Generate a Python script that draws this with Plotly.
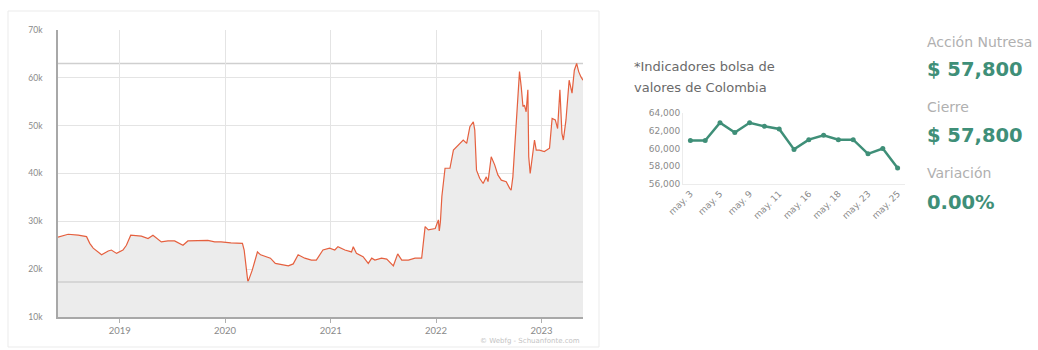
import plotly.graph_objects as go

# ---------------- data ----------------
dates = [
    "2018-06-01", "2018-07-06", "2018-08-10", "2018-09-08", "2018-09-19", "2018-10-01",
    "2018-10-30", "2018-11-22", "2018-12-03", "2018-12-21", "2019-01-12", "2019-01-24",
    "2019-02-08", "2019-03-17", "2019-04-09", "2019-04-26", "2019-05-25", "2019-06-17",
    "2019-07-10", "2019-08-08", "2019-08-25", "2019-09-29", "2019-11-02", "2019-11-26",
    "2019-12-18", "2020-01-21", "2020-03-01", "2020-03-07", "2020-03-20", "2020-04-04",
    "2020-04-22", "2020-05-03", "2020-05-20", "2020-06-06", "2020-06-23", "2020-07-16",
    "2020-08-07", "2020-08-24", "2020-09-10", "2020-10-03", "2020-10-26", "2020-11-12",
    "2020-12-05", "2020-12-28", "2021-01-15", "2021-01-26", "2021-02-19", "2021-03-14",
    "2021-03-20", "2021-03-31", "2021-04-23", "2021-05-11", "2021-05-23", "2021-06-03",
    "2021-06-26", "2021-07-14", "2021-08-06", "2021-08-21", "2021-09-04", "2021-09-27",
    "2021-10-20", "2021-11-12", "2021-11-24", "2021-12-05", "2021-12-29", "2022-01-09",
    "2022-01-12", "2022-01-16", "2022-01-21", "2022-02-01", "2022-02-18", "2022-03-02",
    "2022-03-19", "2022-04-05", "2022-04-17", "2022-04-28", "2022-05-10", "2022-05-15",
    "2022-05-21", "2022-06-01", "2022-06-13", "2022-06-24", "2022-06-30", "2022-07-11",
    "2022-07-23", "2022-08-03", "2022-08-15", "2022-09-01", "2022-09-13", "2022-09-18",
    "2022-09-24", "2022-09-30", "2022-10-11", "2022-10-17", "2022-10-23", "2022-10-29",
    "2022-11-03", "2022-11-09", "2022-11-15", "2022-11-18", "2022-11-23", "2022-12-02",
    "2022-12-08", "2022-12-14", "2022-12-25", "2023-01-11", "2023-01-29", "2023-02-07",
    "2023-02-18", "2023-02-26", "2023-03-06", "2023-03-13", "2023-03-18", "2023-03-27",
    "2023-04-07", "2023-04-17", "2023-04-25", "2023-05-03", "2023-05-10", "2023-05-18",
    "2023-05-25",
]
prices = [
    26700, 27300, 27100, 26800, 25400, 24400,
    23000, 23800, 24000, 23300, 24000, 25000,
    27100, 26900, 26400, 27100, 25700, 25900,
    25900, 25000, 25900, 25900, 26000, 25700,
    25700, 25500, 25400, 24000, 17300, 19800,
    23600, 23000, 22600, 22300, 21200, 20900,
    20700, 21100, 23000, 22300, 21900, 21900,
    24000, 24400, 24000, 24700, 24000, 23600,
    24700, 23300, 22600, 21200, 22300, 21900,
    22300, 22100, 20700, 23200, 21900, 21900,
    22300, 22300, 28900, 28200, 28500, 30300,
    28000, 29900, 35200, 41100, 41100, 44900,
    46000, 47000, 46300, 49800, 50800, 49100,
    40700, 39000, 37900, 39300, 38300, 43500,
    41800, 39700, 38600, 38300, 36900, 36500,
    39300, 45600, 56800, 61300, 58100, 54000,
    54300, 52900, 57500, 43500, 40000, 44200,
    47000, 44900, 44900, 44600, 45300, 51500,
    51200, 49400, 57500, 48400, 47000, 51200,
    59500, 56800, 61600, 63000, 61300, 60200,
    59500,
]
y_tick_values = [10000, 20000, 30000, 40000, 50000, 60000, 70000]
y_tick_labels = ["10k", "20k", "30k", "40k", "50k", "60k", "70k"]

small_days = ["may. 3", "may. 4", "may. 5", "may. 8", "may. 9", "may. 10", "may. 11", "may. 12",
              "may. 16", "may. 17", "may. 18", "may. 19", "may. 23", "may. 24", "may. 25"]
small_values = [60900, 60900, 62900, 61800, 62900, 62500, 62200, 59900,
                61000, 61500, 61000, 61000, 59400, 60000, 57800]
small_tick_labels = ["may. 3", "may. 5", "may. 9", "may. 11", "may. 16", "may. 18", "may. 23", "may. 25"]
small_y_ticks = [56000, 58000, 60000, 62000, 64000]

title_lines = ["*Indicadores bolsa de", "valores de Colombia"]
info_labels = ["Acción Nutresa", "Cierre", "Variación"]
info_values = ["$ 57,800", "$ 57,800", "0.00%"]

# ---------------- figure ----------------
W, H = 1038, 350
def px(x):
    return x / W
def py(y):
    return (H - y) / H

GREEN = "#3f8f78"
RED = "#e5603f"
GRID = "#e4e4e4"
WIDE = "DejaVu Sans, Verdana, sans-serif"

fig = go.Figure()

fig.add_trace(go.Scatter(
    x=dates, y=prices, mode="lines",
    line=dict(color=RED, width=1.2),
    fill="tozeroy", fillcolor="#ececec",
    xaxis="x", yaxis="y", hoverinfo="skip", showlegend=False,
))

fig.add_trace(go.Scatter(
    x=small_days, y=small_values, mode="lines+markers",
    line=dict(color=GREEN, width=2.5),
    marker=dict(color=GREEN, size=5),
    xaxis="x2", yaxis="y2", hoverinfo="skip", showlegend=False,
))

# max / min reference lines of the main series
hi, lo = max(prices), min(prices)
shapes = [
    dict(type="line", xref="x domain", yref="y", x0=0, x1=1, y0=hi, y1=hi,
         line=dict(color="#cfcfcf", width=1.5), layer="below"),
    dict(type="line", xref="x domain", yref="y", x0=0, x1=1, y0=lo, y1=lo,
         line=dict(color="#cfcfcf", width=1.5), layer="above"),
    dict(type="rect", xref="paper", yref="paper", x0=px(8), x1=px(599), y0=py(347), y1=py(11),
         line=dict(color="#ebebeb", width=1), fillcolor="rgba(0,0,0,0)", layer="below"),
]

annotations = []
for i, t in enumerate(title_lines):
    annotations.append(dict(
        text=t, x=px(632), y=py(67 + 20 * i), xref="paper", yref="paper",
        xanchor="left", yanchor="middle", showarrow=False,
        font=dict(family=WIDE, size=13, color="#6a6a6a"),
    ))

label_y = [42, 107, 173]
value_y = [70, 135, 202]
for lab, val, ly, vy in zip(info_labels, info_values, label_y, value_y):
    annotations.append(dict(
        text=lab, x=px(925), y=py(ly), xref="paper", yref="paper",
        xanchor="left", yanchor="middle", showarrow=False,
        font=dict(family=WIDE, size=14, color="#b0b0b0"),
    ))
    annotations.append(dict(
        text="<b>" + val + "</b>", x=px(925), y=py(vy), xref="paper", yref="paper",
        xanchor="left", yanchor="middle", showarrow=False,
        font=dict(family=WIDE, size=19.5, color=GREEN),
    ))

annotations.append(dict(
    text="© Webfg - Schuanfonte.com", x=px(582), y=py(341), xref="paper", yref="paper",
    xanchor="right", yanchor="middle", showarrow=False,
    font=dict(family=WIDE, size=7, color="#c4c4c4"),
))

fig.update_layout(
    width=W, height=H,
    margin=dict(l=0, r=0, t=0, b=0),
    paper_bgcolor="white", plot_bgcolor="white",
    shapes=shapes, annotations=annotations,
    xaxis=dict(
        domain=[px(58), px(583)], anchor="y", type="date", automargin=False,
        range=["2018-06-01", "2023-05-25"],
        tick0="2019-01-01", dtick="M12", tickformat="%Y",
        ticks="outside", ticklen=4, tickcolor="#b0b0b0",
        showgrid=True, gridcolor=GRID, gridwidth=1,
        showline=True, linecolor="#a8a8a8", linewidth=1.5,
        tickfont=dict(family="Lato, Noto Sans, sans-serif", size=9.5, color="#8a8a8a"),
        zeroline=False, fixedrange=True,
    ),
    yaxis=dict(
        domain=[py(317), py(30)], anchor="x", automargin=False,
        range=[10000, 70000],
        tickmode="array", tickvals=y_tick_values, ticktext=y_tick_labels,
        ticks="outside", ticklen=12, tickcolor="rgba(0,0,0,0)",
        showgrid=True, gridcolor=GRID, gridwidth=1,
        showline=True, linecolor="#a8a8a8", linewidth=1.5,
        tickfont=dict(family="Lato, Noto Sans, sans-serif", size=8.5, color="#8a8a8a"),
        zeroline=False, fixedrange=True,
    ),
    xaxis2=dict(
        domain=[px(683), px(905)], anchor="y2", type="category", automargin=False,
        categoryorder="array", categoryarray=small_days,
        range=[-0.5, len(small_days) - 0.5],
        tickmode="array", tickvals=small_tick_labels, ticktext=small_tick_labels,
        tickangle=-45, ticks="", showgrid=False,
        showline=True, linecolor="#ececec", linewidth=1,
        tickfont=dict(family=WIDE, size=9, color="#8a8a8a"),
        zeroline=False, fixedrange=True,
    ),
    yaxis2=dict(
        domain=[py(184), py(113)], anchor="x2", automargin=False,
        range=[56000, 64000],
        tickmode="array", tickvals=small_y_ticks, tickformat=",",
        ticks="", showgrid=False,
        showline=True, linecolor="#ececec", linewidth=1,
        tickfont=dict(family=WIDE, size=9, color="#8a8a8a"),
        zeroline=False, fixedrange=True,
    ),
)

fig.write_html("out.html")
